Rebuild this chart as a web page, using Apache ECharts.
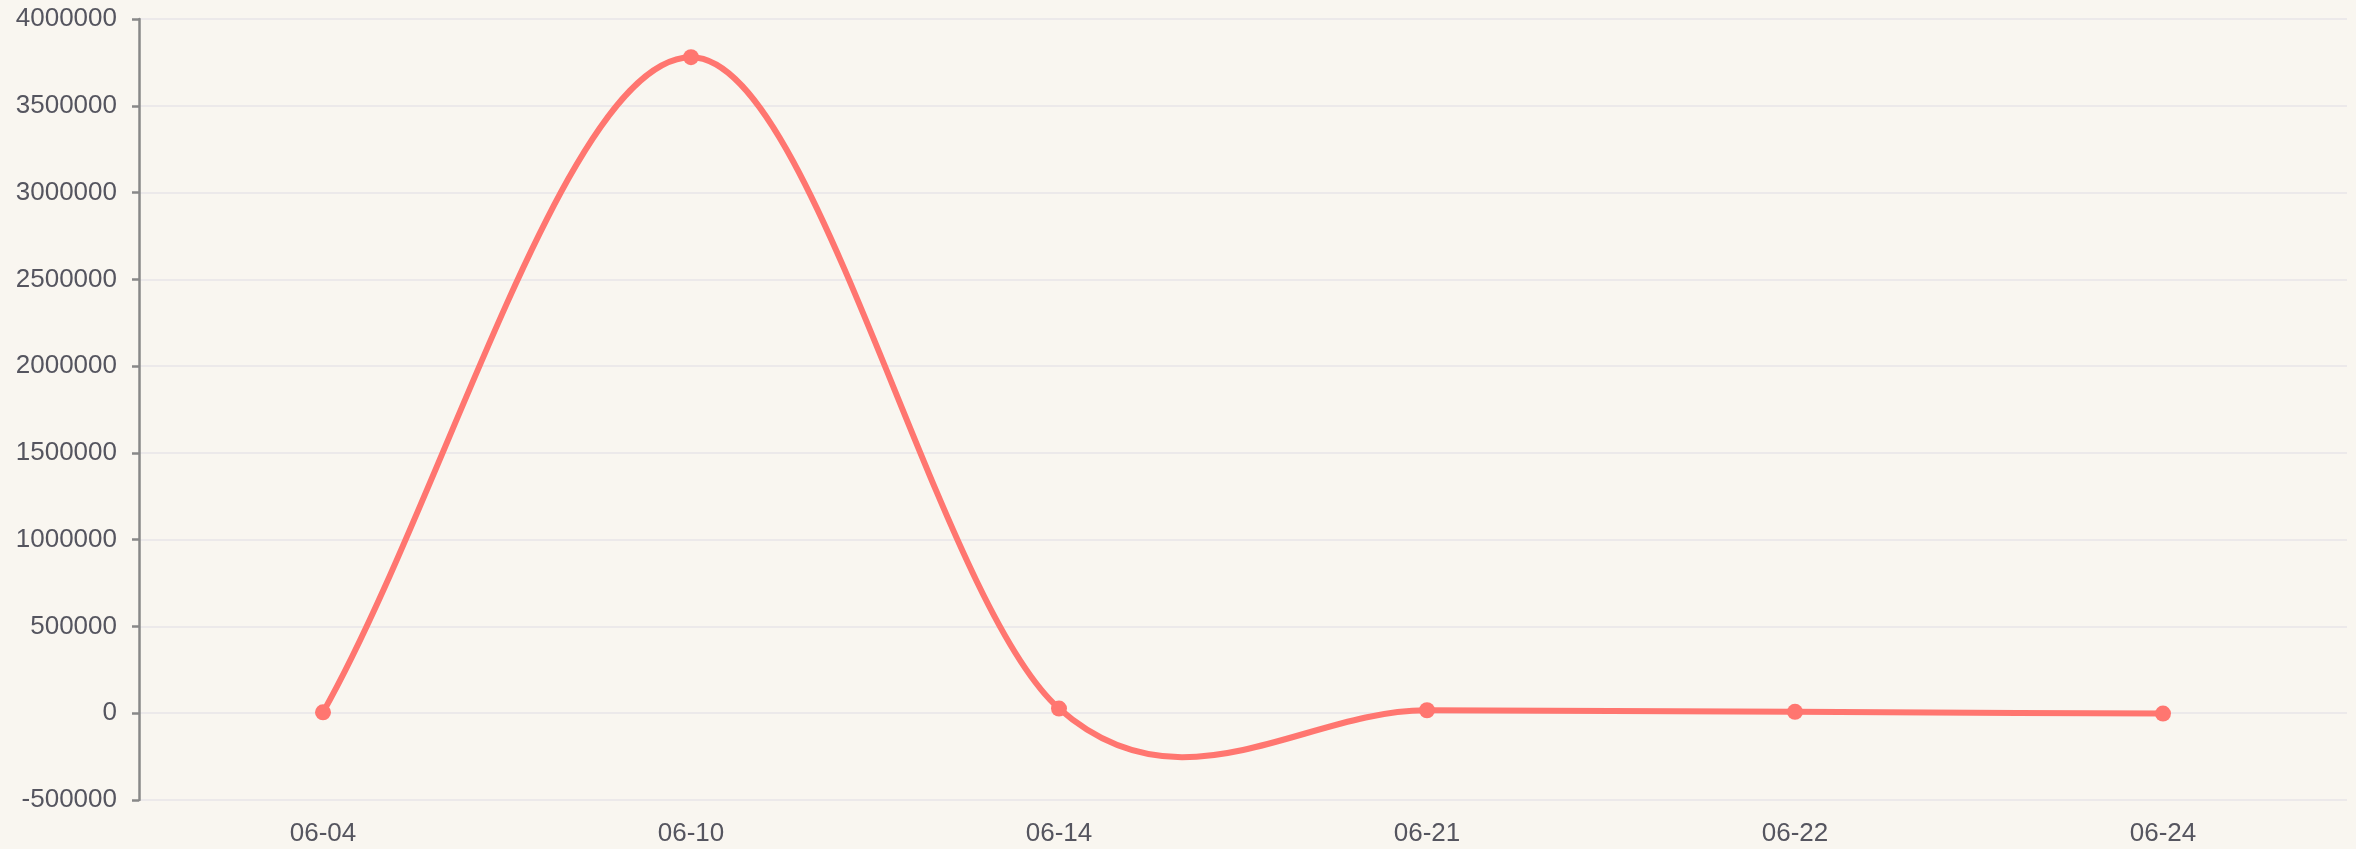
<!DOCTYPE html>
<html>
<head>
<meta charset="utf-8">
<script src="https://cdn.jsdelivr.net/npm/echarts@6/dist/echarts.min.js"></script>
<style>
html,body{margin:0;padding:0;background:#f9f6f0;}
#chart{width:2356px;height:849px;}
</style>
</head>
<body>
<div id="chart"></div>
<script>
var categories = ['06-04', '06-10', '06-14', '06-21', '06-22', '06-24'];
var values = [5000, 3780000, 27000, 17000, 8000, -2000];
var yMin = -500000, yMax = 4000000, yInterval = 500000;

var LINE_COLOR = '#ff7670';
var labelFont = 'Liberation Sans, Arial, sans-serif';

// Catmull-Rom spline control points (reflected end points)
function controlPoints(pts) {
  var n = pts.length, res = [];
  for (var i = 0; i < n; i++) {
    var cur = pts[i], m;
    if (i === 0) {
      m = [(pts[1][0] - cur[0]) / 3, (pts[1][1] - cur[1]) / 3];
    } else if (i === n - 1) {
      m = [(cur[0] - pts[i - 1][0]) / 3, (cur[1] - pts[i - 1][1]) / 3];
    } else {
      m = [(pts[i + 1][0] - pts[i - 1][0]) / 6, (pts[i + 1][1] - pts[i - 1][1]) / 6];
    }
    res.push({prev: [cur[0] - m[0], cur[1] - m[1]], next: [cur[0] + m[0], cur[1] + m[1]]});
  }
  return res;
}

var chart = echarts.init(document.getElementById('chart'));
chart.setOption({
  backgroundColor: '#f9f6f0',
  animation: false,
  grid: {left: 139, right: 9, top: 19, bottom: 49},
  xAxis: {
    type: 'category',
    data: categories,
    boundaryGap: true,
    axisLine: {show: false},
    axisTick: {show: false},
    axisLabel: {color: '#55555f', fontSize: 26, fontFamily: labelFont, margin: 21}
  },
  yAxis: {
    type: 'value',
    min: yMin, max: yMax, interval: yInterval,
    axisLine: {show: true, lineStyle: {color: '#888888', width: 2.5}},
    axisTick: {show: true, length: 7, lineStyle: {color: '#888888', width: 2.5}},
    axisLabel: {color: '#55555f', fontSize: 26, fontFamily: labelFont, margin: 22,
      formatter: function (v) { return String(v); }},
    splitLine: {show: true, lineStyle: {color: '#e7e4e8', width: 1.5}}
  },
  series: [
    {
      type: 'custom',
      data: [0],
      z: 2,
      silent: true,
      renderItem: function (params, api) {
        var pts = values.map(function (v, i) { return api.coord([i, v]); });
        var cps = controlPoints(pts);
        var children = [];
        for (var i = 0; i < pts.length - 1; i++) {
          children.push({
            type: 'bezierCurve',
            shape: {
              x1: pts[i][0], y1: pts[i][1],
              x2: pts[i + 1][0], y2: pts[i + 1][1],
              cpx1: cps[i].next[0], cpy1: cps[i].next[1],
              cpx2: cps[i + 1].prev[0], cpy2: cps[i + 1].prev[1]
            },
            style: {fill: null, stroke: LINE_COLOR, lineWidth: 6, lineCap: 'round'}
          });
        }
        return {type: 'group', children: children};
      }
    },
    {
      type: 'line',
      data: values,
      z: 3,
      symbol: 'circle',
      symbolSize: 16,
      itemStyle: {color: LINE_COLOR},
      lineStyle: {width: 0, opacity: 0}
    }
  ]
});
</script>
</body>
</html>
